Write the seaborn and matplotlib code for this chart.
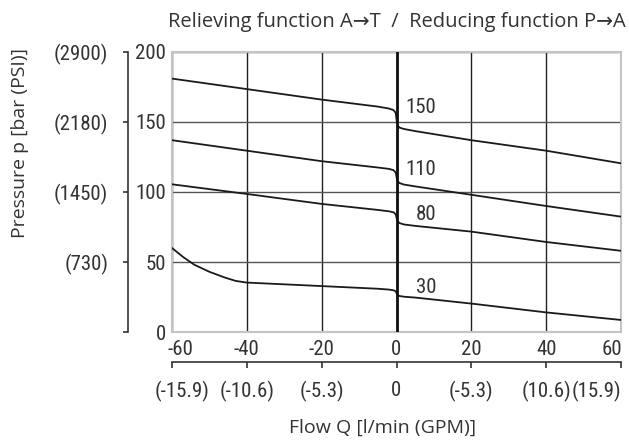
import numpy as np
import pandas as pd
import matplotlib
matplotlib.use("Agg")
import matplotlib.pyplot as plt
import matplotlib.transforms as mtransforms
from matplotlib import font_manager as fm
import seaborn as sns

# Kennlinien (Druck p in bar über Durchfluss Q in l/min)
q_150 = [-60, -40, -20, -5, -2, -0.8, -0.2, 0, 0.2, 0.8, 2, 5, 20, 40, 60]
p_150 = [181, 173.5, 166, 161, 159.6, 158.5, 156.5, 152, 147.8, 146, 145, 143.5, 137, 129.5, 120.5]

q_110 = [-60, -40, -20, -5, -2, -0.8, -0.2, 0, 0.2, 0.8, 2, 5, 20, 40, 60]
p_110 = [137, 129.5, 122, 117.5, 116.5, 115.6, 113.8, 111, 108, 106.4, 105.3, 104, 98, 90, 82.4]

q_80 = [-60, -40, -20, -5, -2, -0.8, -0.2, 0, 0.2, 0.8, 2, 5, 20, 40, 60]
p_80 = [105.5, 98.6, 91.5, 87.2, 86.2, 85.5, 84, 81.8, 79.5, 77.8, 76.8, 75.8, 71.7, 64.3, 58]

q_30 = [-60, -57, -54, -50, -46, -43, -40, -20, -5, -2, -0.8, -0.2, 0, 0.2, 0.8, 2, 5, 20, 40, 60]
p_30 = [60, 53.5, 48, 43, 39, 36.5, 35.3, 32.8, 30.9, 30.3, 29.8, 29, 27.8, 26.6, 25.7, 25.2, 24.6, 20.3, 14, 8.6]

curve_names = ['150', '110', '80', '30']
label_pos_q = [6.5, 6.5, 8, 8]
label_pos_p = [160, 116, 84, 32]

x_ticks = [-60, -40, -20, 0, 20, 40, 60]
x_labels = ['-60', '-40', '-20', '0', '20', '40', '60']
x_gpm_labels = ['(-15.9)', '(-10.6)', '(-5.3)', '0', '(-5.3)', '(10.6)', '(15.9)']
y_ticks = [0, 50, 100, 150, 200]
y_psi_labels = ['', '(730)', '(1450)', '(2180)', '(2900)']

frames = []
for name, q, p in zip(curve_names, [q_150, q_110, q_80, q_30], [p_150, p_110, p_80, p_30]):
    frames.append(pd.DataFrame({'q': q, 'p': p, 'curve': name}))
df = pd.concat(frames, ignore_index=True)

sns.set_style("white")
plt.rcParams['axes.unicode_minus'] = False

# schmale Schrift für die Zahlen, falls vorhanden
installed = {f.name for f in fm.fontManager.ttflist}
narrow_font, num_size = 'Roboto', 13
for cand in ['Liberation Sans Narrow', 'Roboto Condensed', 'Open Sans Condensed',
             'DejaVu Sans Condensed']:
    if cand in installed:
        narrow_font, num_size = cand, 15
        break
narrow = [narrow_font, 'DejaVu Sans']
sans = ['Open Sans', 'DejaVu Sans']
txt = '#333333'

fig = plt.figure(figsize=(6.29, 4.43), dpi=100)
ax = fig.add_axes([172 / 629, 1 - 332 / 443, 449 / 629, 280 / 443])

sns.lineplot(data=df, x='q', y='p', units='curve', estimator=None, sort=False,
             color='#1a1a1a', lw=1.3, ax=ax, zorder=3)
ax.axvline(0, color='#111111', lw=2.0, zorder=4)

for name, xq, yp in zip(curve_names, label_pos_q, label_pos_p):
    ax.text(xq, yp, name, ha='center', va='center', fontsize=num_size,
            family=narrow, color=txt)

ax.set_xlim(-60, 60)
ax.set_ylim(0, 200)
ax.set_xticks(x_ticks, labels=x_labels)
ax.set_yticks(y_ticks)
ax.set_xlabel('')
ax.set_ylabel('')
ax.tick_params(length=0, labelsize=num_size, labelcolor=txt)
ax.tick_params(axis='x', pad=6)
ax.tick_params(axis='y', pad=4.5)
for lab in ax.get_xticklabels() + ax.get_yticklabels():
    lab.set_family(narrow)

ax.xaxis.grid(True, color='#222222', lw=1.0)
ax.yaxis.grid(True, color='#555555', lw=1.0)
for s in ax.spines.values():
    s.set_visible(True)
    s.set_color('#c4c4c4')
    s.set_linewidth(1.5)

# zweite Skala PSI links
sec_y = ax.secondary_yaxis((127.7 - 172) / 449)
sec_y.set_yticks(y_ticks, labels=y_psi_labels)
sec_y.spines['left'].set_color('#333333')
sec_y.spines['left'].set_linewidth(1.2)
sec_y.tick_params(length=3.5, width=1.2, color='#333333', pad=10.5,
                  labelsize=num_size, labelcolor=txt)
for lab in sec_y.get_yticklabels():
    lab.set_family(narrow)

# zweite Skala GPM unten
sec_x = ax.secondary_xaxis((332 - 361.7) / 280)
sec_x.set_xticks(x_ticks, labels=x_gpm_labels)
sec_x.spines['bottom'].set_color('#333333')
sec_x.spines['bottom'].set_linewidth(1.2)
sec_x.tick_params(length=4, width=1.2, color='#333333', pad=10,
                  labelsize=num_size, labelcolor=txt)
for lab in sec_x.get_xticklabels():
    lab.set_family(narrow)


# äußere Beschriftungen nach innen schieben (wie im Original)
def shift(label, dx_px):
    off = mtransforms.ScaledTranslation(dx_px / 100, 0, fig.dpi_scale_trans)
    label.set_transform(label.get_transform() + off)


xl = ax.get_xticklabels()
shift(xl[0], 8)
shift(xl[-1], -9)
gl = sec_x.get_xticklabels()
shift(gl[0], 10)
shift(gl[-1], -25)

fig.text(397 / 629, 1 - 22 / 443,
         'Relieving function A\u2192T  /  Reducing function P\u2192A',
         ha='center', va='center', fontsize=14.5, family=sans, color=txt)
fig.text(20 / 629, 1 - 143.5 / 443, 'Pressure p [bar (PSI)]', rotation=90,
         ha='center', va='center', fontsize=14, family=sans, color=txt)
fig.text(383 / 629, 1 - 428 / 443, 'Flow Q [l/min (GPM)]',
         ha='center', va='center', fontsize=14, family=sans, color=txt)

fig.savefig('out.png', dpi=100)
